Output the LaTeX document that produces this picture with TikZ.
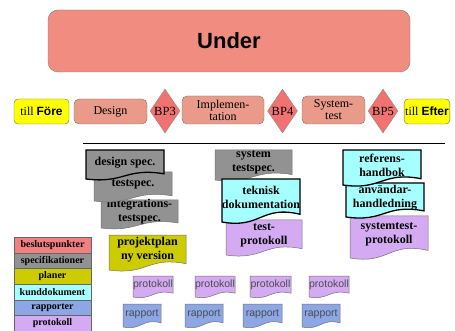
\documentclass[tikz,border=0pt]{standalone}
\usepackage{fontspec}
\setmainfont{Liberation Serif}
\setsansfont{Liberation Sans}
\usetikzlibrary{shapes.geometric}

\definecolor{undercol}{HTML}{F08C80}
\definecolor{phasecol}{HTML}{EA9A88}
\definecolor{bpcol}{HTML}{F27272}
\definecolor{goalcol}{HTML}{FFFF00}
\definecolor{speccol}{HTML}{929292}
\definecolor{plancol}{HTML}{CCCC00}
\definecolor{kundcol}{HTML}{A6FFFF}
\definecolor{protcol}{HTML}{D4ABF2}
\definecolor{rappcol}{HTML}{8CA6E6}
\definecolor{beslcol}{HTML}{F28080}

% document shape with a wavy bottom: name, shape style, text style, x1, y1, x2, y2, text
\newcommand{\docshape}[8]{%
  \pgfmathsetmacro\dmx{(#4+#6)/2}%
  \pgfmathsetmacro\dwv{(#7-#5)*0.18}%
  \draw[#2] (#4,#5) -- (#6,#5) -- (#6,#7-\dwv)
    .. controls (\dmx,#7-2.2*\dwv) and (\dmx,#7+0.9*\dwv) .. (#4,#7) -- cycle;
  \node[#3] (#1) at (\dmx,{(#5+#7)/2-0.07*(#7-#5)}) {#8};%
}

\tikzset{
  under/.style={draw=black!50, fill=undercol, rounded corners=10pt,
    minimum width=362pt, minimum height=62pt,
    font=\sffamily\bfseries\fontsize{22}{26}\selectfont},
  phase/.style={draw=black!55, fill=phasecol, rounded corners=5pt,
    inner sep=1pt, align=center, font=\fontsize{12}{12}\selectfont},
  goal/.style={draw=black!60, fill=goalcol, rounded corners=4pt,
    minimum height=25pt, inner sep=1pt, font=\fontsize{12}{12}\selectfont},
  bp/.style={diamond, draw=black!45, fill=bpcol, minimum width=30pt,
    minimum height=44pt, inner sep=0pt, font=\fontsize{12.5}{12}\selectfont},
  legend/.style={draw=black!60, minimum width=77pt, minimum height=15.7pt,
    inner sep=0pt, font=\bfseries\fontsize{10}{10}\selectfont},
  thin/.style={draw=black!55, line width=0.5pt},
  heavy/.style={draw=black, line width=1.3pt},
  doctext/.style={align=center, inner sep=0pt,
    font=\bfseries\fontsize{12}{14}\selectfont},
  smalltext/.style={inner sep=0pt, text=black!70,
    font=\sffamily\fontsize{10.5}{10}\selectfont}
}

\begin{document}
\begin{tikzpicture}[x=1pt,y=-1pt]
\useasboundingbox (0,0) rectangle (455,331);

\node[under] (under) at (229,41) {Under};

% phases and decision points
\node[goal, minimum width=55pt] (fore) at (41.5,111.5) {till \textsf{\bfseries Före}};
\node[phase, minimum width=73pt, minimum height=25pt] (design) at (110.5,111.5) {Design};
\node[bp] (bp3) at (165,111) {BP3};
\node[phase, minimum width=82pt, minimum height=28pt] (impl) at (223,110) {Implemen-\\tation};
\node[bp] (bp4) at (282.5,111) {BP4};
\node[phase, minimum width=63pt, minimum height=28pt] (systest) at (333.5,110) {System-\\test};
\node[bp] (bp5) at (383,111) {BP5};
\node[goal, minimum width=44pt] (efter) at (427,111.5) {till \textsf{\bfseries Efter}};

\draw[line width=0.8pt] (83,143) -- (445,143);

% design documents
\docshape{plan}{thin, fill=plancol}{doctext}{109}{235}{186}{270}{projektplan\\ny version}
\docshape{integ}{thin, fill=speccol}{doctext}{101}{200}{178}{228}{integrations-\\testspec.}
\docshape{tspec}{thin, fill=speccol}{doctext}{94}{172}{172}{201}{testspec.}
\docshape{dspec}{heavy, fill=speccol}{doctext}{86}{150}{164}{179}{design spec.}

% implementation documents
\docshape{sysspec}{thin, fill=speccol}{doctext}{215}{150}{292}{180}{system\\testspec.}
\docshape{tprot}{thin, fill=protcol}{doctext}{226}{220}{302}{255}{test-\\protokoll}
\docshape{teknisk}{heavy, fill=kundcol}{doctext}{222}{179}{300}{222}{teknisk\\dokumentation}

% system test documents
\docshape{sprot}{thin, fill=protcol}{doctext}{350}{216}{428}{258}{systemtest-\\protokoll}
\docshape{anvand}{heavy, fill=kundcol}{doctext}{346}{183}{424}{217}{användar-\\handledning}
\docshape{referens}{heavy, fill=kundcol}{doctext}{343}{150}{421}{185}{referens-\\handbok}

% protocols and reports
\foreach \xa/\xb [count=\i] in {133/173,195/235,250/291,309/349}
  \docshape{prot\i}{thin, fill=protcol}{smalltext}{\xa}{276}{\xb}{297}{protokoll};
\foreach \xa/\xb [count=\i] in {123/161,185/223,243/282,302/340}
  \docshape{rapp\i}{thin, fill=rappcol}{smalltext}{\xa}{304}{\xb}{327}{rapport};

% legend
\node[legend, fill=beslcol] (l1) at (52.5,244.85) {beslutspunkter};
\node[legend, fill=speccol] (l2) at (52.5,260.55) {specifikationer};
\node[legend, fill=plancol] (l3) at (52.5,276.25) {planer};
\node[legend, fill=kundcol] (l4) at (52.5,291.95) {kunddokument};
\node[legend, fill=rappcol] (l5) at (52.5,307.65) {rapporter};
\node[legend, fill=protcol] (l6) at (52.5,323.35) {protokoll};
\end{tikzpicture}
\end{document}
